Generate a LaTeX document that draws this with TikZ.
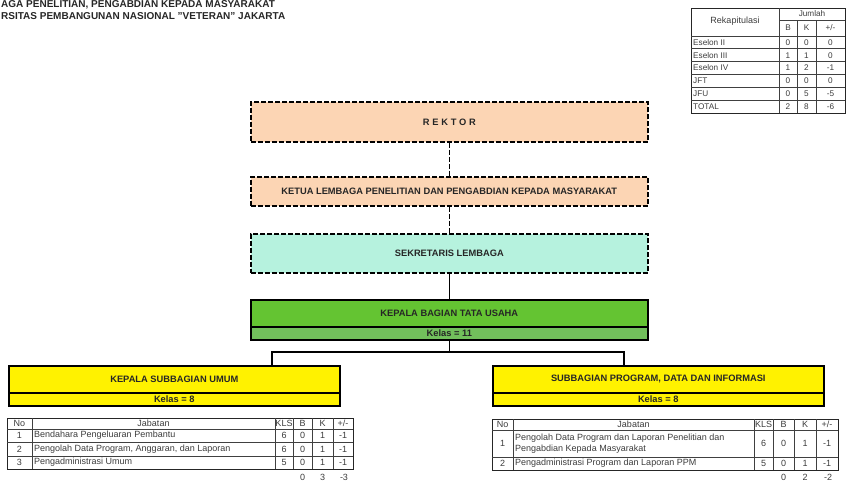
\documentclass[tikz,border=0pt]{standalone}
\usepackage{fontspec}
\setmainfont{Liberation Sans}
\definecolor{peach}{HTML}{FCD5B4}
\definecolor{mint}{HTML}{B6F2DE}
\definecolor{kgreen}{HTML}{64C432}
\definecolor{kgreen2}{HTML}{72C05C}
\definecolor{txt}{HTML}{262626}
\begin{document}
\begin{tikzpicture}[x=1pt,y=-1pt,
  dbox/.style={draw=black, line width=1.6pt, dash pattern=on 5pt off 2pt, inner sep=0pt, anchor=north west},
  sbox/.style={draw=black, line width=1.6pt, inner sep=0pt, anchor=north west},
  btxt/.style={font=\fontsize{9.3}{10}\selectfont\bfseries, text=txt, inner sep=0pt},
  ttl/.style={font=\fontsize{10}{11}\selectfont\bfseries, text=txt, inner sep=0pt, anchor=west},
  ttxt/.style={font=\fontsize{9}{10.4}\selectfont, text=txt!90, inner sep=0pt},
  rtxt/.style={font=\fontsize{8.2}{9}\selectfont, text=txt!90, inner sep=0pt},
  gridl/.style={draw=black!75, line width=0.7pt},
  gridb/.style={draw=black!85, line width=1pt},
  conn/.style={draw=black, line width=1.6pt},
  dconn/.style={conn, dash pattern=on 5pt off 2pt}]

\useasboundingbox (0,0) rectangle (846,483);

% title
\node[ttl] (t1) at (1,5) {AGA PENELITIAN, PENGABDIAN KEPADA MASYARAKAT};
\node[ttl] (t2) at (1,16) {RSITAS PEMBANGUNAN NASIONAL "VETERAN" JAKARTA};

% main boxes
\node[dbox, fill=peach, minimum width=397pt, minimum height=40pt] (rektor) at (250,101) {};
\node[btxt] (rektort) at (rektor.center) {\addfontfeature{LetterSpace=30}REKTOR};
\node[dbox, fill=peach, minimum width=397pt, minimum height=29pt] (ketua) at (250,176) {};
\node[btxt] (ketuat) at (ketua.center) {KETUA LEMBAGA PENELITIAN DAN PENGABDIAN KEPADA MASYARAKAT};
\node[dbox, fill=mint, minimum width=397pt, minimum height=39pt] (sek) at (250,233) {};
\node[btxt] (sekt) at (sek.center) {SEKRETARIS LEMBAGA};
\node[sbox, fill=kgreen, minimum width=397pt, minimum height=27pt] (kbag) at (250,299) {};
\node[btxt] (kbagt) at (kbag.center) {KEPALA BAGIAN TATA USAHA};
\node[sbox, fill=kgreen2, minimum width=397pt, minimum height=13pt] (kbagk) at (250,326) {};
\node[btxt] (kbagkt) at (kbagk.center) {Kelas = 11};

\node[sbox, fill=yellow, minimum width=331pt, minimum height=27pt] (ksu) at (8,365) {};
\node[btxt] (ksut) at (ksu.center) {KEPALA SUBBAGIAN UMUM};
\node[sbox, fill=yellow, minimum width=331pt, minimum height=13pt] (ksuk) at (8,392) {};
\node[btxt] (ksukt) at (ksuk.center) {Kelas = 8};
\node[sbox, fill=yellow, minimum width=331pt, minimum height=27pt] (spd) at (492,365) {};
\node[btxt] (spdt) at (spd.center) {SUBBAGIAN PROGRAM, DATA DAN INFORMASI};
\node[sbox, fill=yellow, minimum width=331pt, minimum height=13pt] (spdk) at (492,392) {};
\node[btxt] (spdkt) at (spdk.center) {Kelas = 8};

% connectors
\draw[dconn] (rektor.south) -- (ketua.north);
\draw[dconn] (ketua.south) -- (sek.north);
\draw[conn] (sek.south) -- (kbag.north);
\coordinate (jl) at (272,352);
\coordinate (jr) at (624,352);
\draw[conn] (kbagk.south) -- (kbagk.south |- jl);
\draw[conn] (jl |- ksu.north) -- (jl) -- (jr) -- (jr |- spd.north);

% left table
\draw[gridb] (7,418) rectangle (353,469);
\foreach \y in {429,442,456} \draw[gridl] (7,\y) -- (353,\y);
\foreach \x in {32,275,293,312,333} \draw[gridl] (\x,418) -- (\x,469);
\node[ttxt] (lh1) at (19.5,423.5) {No};
\node[ttxt] (lh2) at (153.5,423.5) {Jabatan};
\node[ttxt] (lh3) at (284,423.5) {KLS};
\node[ttxt] (lh4) at (302.5,423.5) {B};
\node[ttxt] (lh5) at (322.5,423.5) {K};
\node[ttxt] (lh6) at (343,423.5) {+/-};
\foreach \n/\j/\k/\y in {1/Bendahara Pengeluaran Pembantu/6/435.5, 2/{Pengolah Data Program, Anggaran, dan Laporan}/6/449, 3/Pengadministrasi Umum/5/462.5}{
  \node[ttxt] (ln\n) at (19.5,\y) {\n};
  \node[ttxt, anchor=west] (lj\n) at (34,\y) {\j};
  \node[ttxt] (lk\n) at (284,\y) {\k};
  \node[ttxt] (lb\n) at (302.5,\y) {0};
  \node[ttxt] (lkk\n) at (322.5,\y) {1};
  \node[ttxt] (lpm\n) at (343,\y) {-1};
}
\node[ttxt] (ltb) at (302.5,477) {0};
\node[ttxt] (ltk) at (322.5,477) {3};
\node[ttxt] (ltp) at (344,477) {-3};

% right table
\draw[gridb] (492,419) rectangle (838,470);
\foreach \y in {430,457} \draw[gridl] (492,\y) -- (838,\y);
\foreach \x in {513,754,773,794,816} \draw[gridl] (\x,419) -- (\x,470);
\node[ttxt] (rh1) at (502.5,424.5) {No};
\node[ttxt] (rh2) at (633.5,424.5) {Jabatan};
\node[ttxt] (rh3) at (763.5,424.5) {KLS};
\node[ttxt] (rh4) at (783.5,424.5) {B};
\node[ttxt] (rh5) at (805,424.5) {K};
\node[ttxt] (rh6) at (827,424.5) {+/-};
\node[ttxt] (rn1) at (502.5,443.5) {1};
\node[ttxt, anchor=west, align=left] (rj1) at (515,443.5) {Pengolah Data Program dan Laporan Penelitian dan\\Pengabdian Kepada Masyarakat};
\node[ttxt] (rk1) at (763.5,443.5) {6};
\node[ttxt] (rb1) at (783.5,443.5) {0};
\node[ttxt] (rkk1) at (805,443.5) {1};
\node[ttxt] (rpm1) at (827,443.5) {-1};
\node[ttxt] (rn2) at (502.5,463.5) {2};
\node[ttxt, anchor=west] (rj2) at (515,463.5) {Pengadministrasi Program dan Laporan PPM};
\node[ttxt] (rk2) at (763.5,463.5) {5};
\node[ttxt] (rb2) at (783.5,463.5) {0};
\node[ttxt] (rkk2) at (805,463.5) {1};
\node[ttxt] (rpm2) at (827,463.5) {-1};
\node[ttxt] (rtb) at (783.5,477) {0};
\node[ttxt] (rtk) at (805,477) {2};
\node[ttxt] (rtp) at (828,477) {-2};

% recap table
\draw[gridb] (691,8) rectangle (845,113);
\draw[gridl] (779,20) -- (845,20);
\draw[gridl] (691,36) -- (845,36);
\foreach \y in {48.8,61.6,74.4,87.2,100} \draw[gridl] (691,\y) -- (845,\y);
\draw[gridl] (779,8) -- (779,113);
\foreach \x in {797,816} \draw[gridl] (\x,20) -- (\x,113);
\node[rtxt, font=\fontsize{9}{10}\selectfont] (rekap) at (735,21) {Rekapitulasi};
\node[rtxt] (jml) at (812,14) {Jumlah};
\node[rtxt] (cb) at (788,28) {B};
\node[rtxt] (ck) at (806.5,28) {K};
\node[rtxt] (cp) at (830.5,28) {+/-};
\foreach \i/\l/\b/\k/\p/\y in {1/Eselon II/0/0/0/42.4, 2/Eselon III/1/1/0/55.2, 3/Eselon IV/1/2/-1/68, 4/JFT/0/0/0/80.8, 5/JFU/0/5/-5/93.6, 6/TOTAL/2/8/-6/106.4}{
  \node[rtxt, anchor=west] (rl\i) at (693,\y) {\l};
  \node[rtxt] (rvb\i) at (788,\y) {\b};
  \node[rtxt] (rvk\i) at (806.5,\y) {\k};
  \node[rtxt] (rvp\i) at (830.5,\y) {\p};
}
\end{tikzpicture}
\end{document}
